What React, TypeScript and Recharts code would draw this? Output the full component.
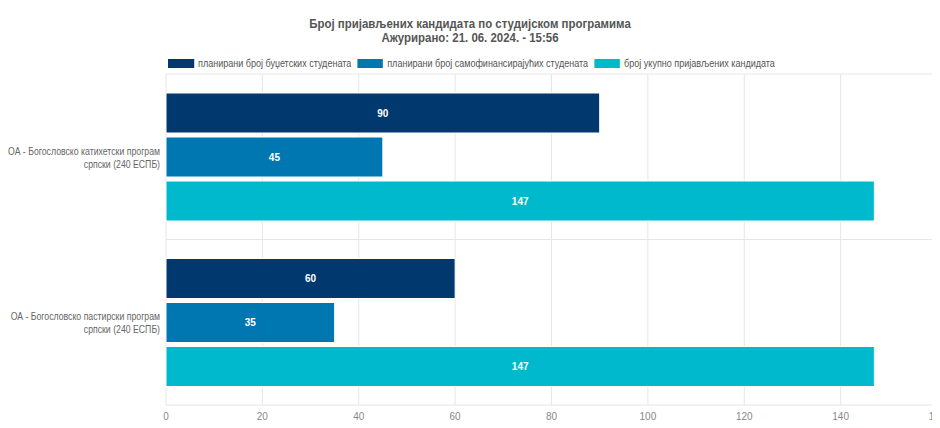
import { BarChart, Bar, XAxis, YAxis, CartesianGrid, LabelList, Customized } from 'recharts';

const chartTitle = 'Број пријављених кандидата по студијском програмима';
const chartSubtitle = 'Ажурирано: 21. 06. 2024. - 15:56';

const categories = [
  'ОА - Богословско катихетски програм српски (240 ЕСПБ)',
  'ОА - Богословско пастирски програм српски (240 ЕСПБ)',
];
const categoryLines = [
  ['ОА - Богословско катихетски програм', 'српски (240 ЕСПБ)'],
  ['ОА - Богословско пастирски програм', 'српски (240 ЕСПБ)'],
];

const budgetPlanned = [90, 60];
const selfFundedPlanned = [45, 35];
const totalApplied = [147, 147];

const xTicks = [0, 20, 40, 60, 80, 100, 120, 140, 160];

const series = [
  { key: 'budget', name: 'планирани број буџетских студената', color: '#01396f' },
  { key: 'self', name: 'планирани број самофинансирајућих студената', color: '#0077b1' },
  { key: 'total', name: 'број укупно пријављених кандидата', color: '#00b9cd' },
];

const data = categories.map((name, i) => ({
  name,
  budget: budgetPlanned[i],
  self: selfFundedPlanned[i],
  total: totalApplied[i],
}));

const sans = '"Liberation Sans", Arial, sans-serif';
// the original text is rendered a bit condensed
const squeeze = 0.82;

function CategoryTick(props: any) {
  const { x, y, index } = props;
  const lines = categoryLines[index] || [props.payload.value];
  return (
    <g transform={`translate(${x + 2},${y}) scale(0.872,1)`}>
      {lines.map((l: string, j: number) => (
        <text key={j} x={0} y={-2 + j * 13} textAnchor="end" fill="#666" fontSize={10} fontFamily={sans}>
          {l}
        </text>
      ))}
    </g>
  );
}

// short tick marks on category boundaries, like the original
function BoundaryTicks(props: any) {
  const off = props.offset;
  if (!off) return null;
  const n = categories.length;
  return (
    <g>
      {Array.from({ length: n + 1 }, (_, i) => {
        const yy = off.top + (i * off.height) / n;
        return <line key={i} x1={off.left - 4} x2={off.left} y1={yy} y2={yy} stroke="#ccd6eb" />;
      })}
    </g>
  );
}

export default function App() {
  return (
    <div style={{ position: 'relative', width: 940, height: 428, margin: '-8px 0 0 -8px', fontFamily: sans, background: '#fff', overflow: 'hidden' }}>
      <div style={{ position: 'absolute', top: 17, left: 0, width: 940, textAlign: 'center', color: '#555', fontWeight: 'bold', fontSize: 13, lineHeight: '14px', transform: 'scaleX(0.88)', transformOrigin: '470px 0' }}>
        <div>{chartTitle}</div>
        <div>{chartSubtitle}</div>
      </div>
      <div
        style={{
          position: 'absolute',
          top: 57,
          left: 168,
          display: 'flex',
          alignItems: 'center',
          fontSize: 11,
          color: '#555',
          whiteSpace: 'nowrap',
          transform: `scaleX(${squeeze})`,
          transformOrigin: '0 0',
        }}
      >
        {series.map((s) => (
          <div key={s.key} style={{ display: 'flex', alignItems: 'center', marginRight: 6 / squeeze }}>
            <span style={{ display: 'inline-block', width: 26 / squeeze, height: 9, background: s.color, marginRight: 4 / squeeze }} />
            <span>{s.name}</span>
          </div>
        ))}
      </div>
      <BarChart
        width={940}
        height={428}
        data={data}
        layout="vertical"
        margin={{ top: 74, right: 3, bottom: 3, left: 0 }}
        barSize={40}
        barGap={4}
      >
        <CartesianGrid
          stroke="#e6e6e6"
          horizontalCoordinatesGenerator={({ offset }: any) =>
            Array.from({ length: categories.length + 1 }, (_, i) => offset.top + (i * offset.height) / categories.length)
          }
        />
        <XAxis
          type="number"
          domain={[0, 160]}
          ticks={xTicks}
          axisLine={false}
          tickLine={false}
          height={20}
          tick={{ fill: '#888', fontSize: 10, fontFamily: sans }}
          interval={0}
        />
        <YAxis type="category" dataKey="name" width={166} axisLine={false} tickLine={false} tick={<CategoryTick />} interval={0} />
        <Customized component={BoundaryTicks} />
        {series.map((s) => (
          <Bar key={s.key} dataKey={s.key} name={s.name} fill={s.color} stroke="#fff" strokeWidth={1} isAnimationActive={false}>
            <LabelList dataKey={s.key} position="center" fill="#fff" fontSize={10} fontWeight="bold" fontFamily={sans} />
          </Bar>
        ))}
      </BarChart>
    </div>
  );
}
